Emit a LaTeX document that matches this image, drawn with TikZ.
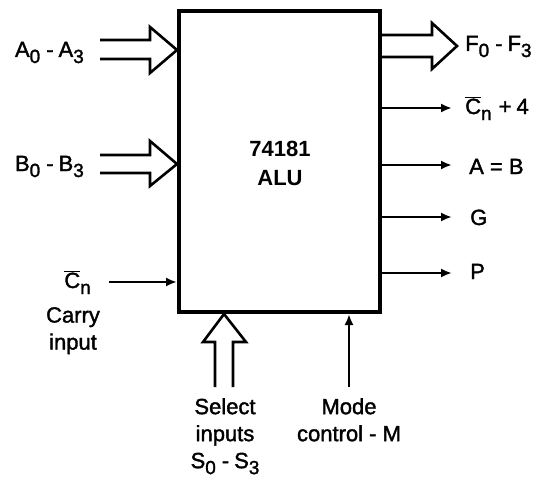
\documentclass[tikz,border=0pt]{standalone}
\usepackage{fontspec}
\setmainfont{Liberation Sans}
\newfontfamily\lblfont{Liberation Sans}[FakeBold=1.6]
\usetikzlibrary{arrows.meta}
\newcommand\lsub[1]{\raisebox{-6pt}{\fontsize{19}{19}\selectfont #1}}
\newcommand\cbar{$\overline{\mbox{C}}$}
\begin{document}
\begin{tikzpicture}[x=1pt,y=-1pt,
  lbl/.style={inner sep=0pt,font=\lblfont\fontsize{22}{27}\selectfont},
  busline/.style={line width=2.6pt,line join=miter},
  sig/.style={line width=2.4pt,-{Latex[length=11pt,width=9pt]}}]
\useasboundingbox (0,0) rectangle (538,487);
\node[draw,line width=4pt,minimum width=201pt,minimum height=301pt,inner sep=0pt] (alu) at (279.5,161.5) {};
\node[lbl,align=center,font=\fontsize{22}{29}\selectfont\bfseries] (title) at (280,163) {74181\\ALU};
% left labels
\node[lbl,anchor=base east] (la) at (84,57) {A\lsub0\hspace{6pt}-\hspace{5pt}A\lsub3};
\node[lbl,anchor=base east] (lb) at (84,171) {B\lsub0\hspace{6pt}-\hspace{5pt}B\lsub3};
\node[lbl,anchor=base east] (lc) at (91,288) {\cbar\lsub{n}};
\node[lbl,align=center,anchor=north] (lcarry) at (73,307) {Carry\\input};
% right labels
\node[lbl,anchor=base west] (lf) at (465,51) {F\lsub0\hspace{6pt}-\hspace{5pt}F\lsub3};
\node[lbl,anchor=base west] (lcn) at (465,114) {\cbar\lsub{n}\hspace{7pt}+\hspace{5pt}4};
\node[lbl,anchor=base west] (lab) at (469,174) {A = B};
\node[lbl,anchor=base west] (lg) at (470,225) {G};
\node[lbl,anchor=base west] (lp) at (470,279) {P};
% bottom labels
\node[lbl,align=center,anchor=north] (lsel) at (225,398) {Select\\inputs\\S\lsub0\hspace{6pt}-\hspace{5pt}S\lsub3};
\node[lbl,align=center,anchor=north] (lmode) at (349,398) {Mode\\control - M};
% free ends
\coordinate (a1) at (100,40);  \coordinate (a2) at (100,59);
\coordinate (b1) at (100,155); \coordinate (b2) at (100,173);
\coordinate (s1) at (215,387); \coordinate (s2) at (233,387);
\coordinate (fend) at (457,46);
\coordinate (modeend) at (349,387);
\coordinate (cnend) at (109,282);
% bus A
\draw[busline] (a1) -- (150,40) -- (150,27) -- (alu.west |- 0,50) -- (150,73) -- (150,59) -- (a2);
% bus B
\draw[busline] (b1) -- (150,155) -- (150,141) -- (alu.west |- 0,164) -- (150,186) -- (150,173) -- (b2);
% bus F
\draw[busline] (alu.east |- 0,35) -- (432,35) -- (432,23) -- (fend) -- (432,69) -- (432,57) -- (alu.east |- 0,57);
% bus S
\draw[busline] (s1) -- (215,342) -- (203,342) -- (alu.south -| 224,0) -- (246,342) -- (233,342) -- (s2);
% single signals
\draw[sig] (cnend) -- (alu.west |- cnend);
\draw[sig] (modeend) -- (modeend |- alu.south);
\draw[sig] (alu.east |- 0,108) -- (452,108);
\draw[sig] (alu.east |- 0,165) -- (452,165);
\draw[sig] (alu.east |- 0,217) -- (452,217);
\draw[sig] (alu.east |- 0,273) -- (452,273);
\end{tikzpicture}
\end{document}
